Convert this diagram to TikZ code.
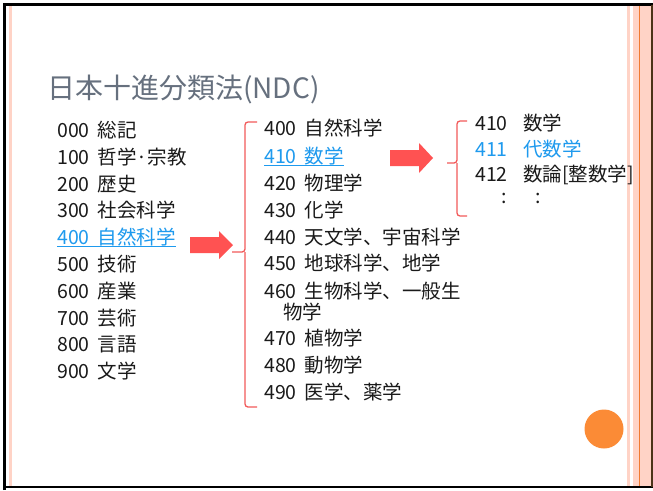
\documentclass[tikz,border=0pt]{standalone}
\usepackage{fontspec}
\setmainfont{Noto Sans CJK JP}
\definecolor{txt}{HTML}{1A1A1A}
\definecolor{ttl}{HTML}{66707E}
\definecolor{lnk}{HTML}{1E9AEE}
\definecolor{arr}{HTML}{FF5252}
\definecolor{brk}{HTML}{F25A5A}
\definecolor{pinkband}{HTML}{FFD3C6}
\definecolor{orng}{HTML}{F07A30}
\definecolor{dot}{HTML}{FB8B36}
\newcommand{\gap}{\hspace{0.42em}}
\tikzset{
  item/.style={anchor=base west, inner sep=0pt, text=txt, font=\fontsize{19.5}{21}\selectfont},
  linkitem/.style={item, text=lnk},
  ttlstyle/.style={anchor=base west, inner sep=0pt, text=ttl, font=\fontsize{28}{30}\selectfont},
  bracket/.style={draw=brk, line width=1.3pt, rounded corners=3pt},
  blockarrow/.style={fill=arr, draw=none},
  uline/.style={draw=lnk, line width=1pt}
}
\begin{document}
\begin{tikzpicture}[x=1pt,y=-1pt]
\useasboundingbox (0,0) rectangle (653,490);
\fill[white] (0,0) rectangle (653,490);
% frame decorations
\fill[pinkband] (8.5,5) rectangle (11.5,486);
\fill[pinkband] (627,5) rectangle (630,486);
\fill[pinkband] (633,5) rectangle (651,486);
\draw[orng, line width=1pt] (639.5,5) -- (639.5,486);
\draw[black, line width=2.5pt] (4.5,490) -- (4.5,4.5) -- (653,4.5);
\draw[black, line width=2.5pt] (4.5,487) -- (653,487);
\draw[black!60!brown, line width=1.5pt] (652,4.5) -- (652,487);
% title
\node[ttlstyle] (title) at (47,98.5) {日本十進分類法(NDC)};
% left list (y = baseline)
\node[item] (l000) at (57,137) {000\gap 総記};
\node[item] (l100) at (57,164) {100\gap 哲学·宗教};
\node[item] (l200) at (57,191) {200\gap 歴史};
\node[item] (l300) at (57,217) {300\gap 社会科学};
\node[linkitem] (l400) at (57,244) {400\gap 自然科学};
\node[item] (l500) at (57,271) {500\gap 技術};
\node[item] (l600) at (57,298) {600\gap 産業};
\node[item] (l700) at (57,325) {700\gap 芸術};
\node[item] (l800) at (57,351) {800\gap 言語};
\node[item] (l900) at (57,378) {900\gap 文学};
\draw[uline] ([yshift=-2pt]l400.base west) -- ([yshift=-2pt]l400.base east);
% middle list
\node[item] (m400) at (264,135) {400\gap 自然科学};
\node[linkitem] (m410) at (264,163) {410\gap 数学};
\node[item] (m420) at (264,190) {420\gap 物理学};
\node[item] (m430) at (264,217) {430\gap 化学};
\node[item] (m440) at (264,244) {440\gap 天文学、宇宙科学};
\node[item] (m450) at (264,270) {450\gap 地球科学、地学};
\node[item] (m460) at (264,298) {460\gap 生物科学、一般生};
\node[item] (m460b) at (283,319) {物学};
\node[item] (m470) at (264,345) {470\gap 植物学};
\node[item] (m480) at (264,372) {480\gap 動物学};
\node[item] (m490) at (264,399) {490\gap 医学、薬学};
\draw[uline] ([yshift=-2pt]m410.base west) -- ([yshift=-2pt]m410.base east);
% right list
\node[item] (r410) at (475,130) {410};
\node[item] (r410t) at (523,130) {数学};
\node[linkitem] (r411) at (475,156) {411};
\node[linkitem] (r411t) at (523,156) {代数学};
\node[item] (r412) at (475,181) {412};
\node[item] (r412t) at (523,181) {数論[整数学]};
\node[item] (rd1) at (501,203) {:};
\node[item] (rd2) at (535,203) {:};
% brackets
\coordinate (bm) at (232,252);
\draw[bracket] (257,122) -- (245,122) -- (245,252) -- (bm);
\draw[bracket] (257,407) -- (245,407) -- (245,252);
\coordinate (br) at (447,163);
\draw[bracket] (467,121) -- (457,121) -- (457,163) -- (br);
\draw[bracket] (467,216) -- (457,216) -- (457,163);
% block arrows
\fill[blockarrow] (190,237) -- (219,237) -- (219,231) -- (233,245) -- (219,259) -- (219,253) -- (190,253) -- cycle;
\fill[blockarrow] (390,150) -- (419,150) -- (419,143) -- (433,158) -- (419,173) -- (419,166) -- (390,166) -- cycle;
% orange dot
\fill[dot] (604,429) circle (19.5);
\end{tikzpicture}
\end{document}
